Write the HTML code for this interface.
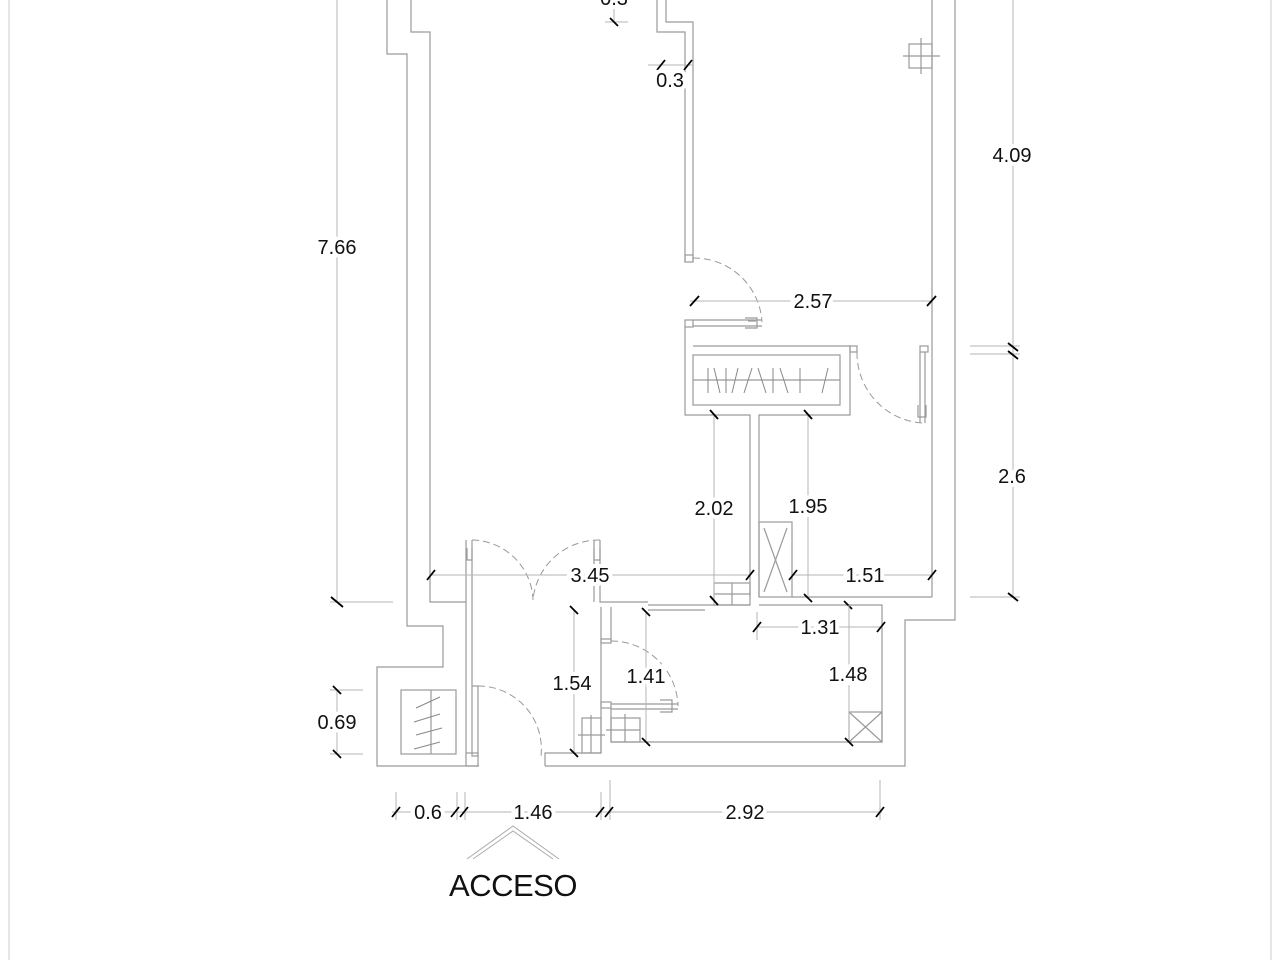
<!DOCTYPE html>
<html><head><meta charset="utf-8"><style>
html,body{margin:0;padding:0;background:#fff;}
svg{display:block;}
text{font-family:"Liberation Sans",Arial,sans-serif;font-size:20px;fill:#111;text-anchor:middle;paint-order:stroke;stroke:#fff;stroke-width:8px;}
.w{stroke:#9a9a9a;stroke-width:1.2;fill:none;}
.d{stroke:#b5b5b5;stroke-width:1;fill:none;}
.a{stroke:#999;stroke-width:1;fill:none;stroke-dasharray:7 4;}
.t{stroke:#000;stroke-width:1.8;}
</style></head><body>
<svg width="1280" height="960" viewBox="0 0 1280 960" xmlns="http://www.w3.org/2000/svg">
<line x1="9" y1="0" x2="9" y2="960" stroke="#e6e6e6" stroke-width="2"/>
<line x1="1271" y1="0" x2="1271" y2="960" stroke="#e6e6e6" stroke-width="2"/>

<polyline class="w" points="387,0 387,54 407,54 407,626 443,626 443,667 377,667 377,766 479,766"/>
<polyline class="w" points="411,0 411,32 430,32 430,602 466,602"/>
<polyline class="w" points="657,0 657,32 685,32 685,262"/>
<polyline class="w" points="666,0 666,22 693,22 693,262"/>
<rect class="w" x="685" y="255" width="8" height="7"/>
<path class="a" d="M693,258 A68,68 0 0 1 762,322"/>
<line class="w" x1="693" y1="320" x2="762" y2="320"/>
<line class="w" x1="693" y1="326" x2="762" y2="326"/>
<rect class="w" x="685" y="320" width="8" height="7"/>
<path class="w" d="M745,318 h12 v10 h-12 M748,321 h8"/>
<polyline class="w" points="685,327 685,415 750,415 750,597"/>
<polyline class="w" points="693,346 850,346 850,415 759,415 759,597"/>
<rect class="w" x="850" y="346" width="7" height="6"/>
<rect class="w" x="693" y="355" width="147" height="50"/>
<line class="w" x1="693" y1="380" x2="840" y2="380"/>
<g stroke="#888" stroke-width="1">
<line x1="708" y1="368" x2="708" y2="393"/><line x1="714" y1="368" x2="720" y2="393"/>
<line x1="726" y1="368" x2="726" y2="393"/><line x1="738" y1="368" x2="732" y2="393"/>
<line x1="752" y1="368" x2="744" y2="393"/><line x1="758" y1="368" x2="766" y2="393"/>
<line x1="773" y1="368" x2="773" y2="393"/><line x1="780" y1="368" x2="788" y2="393"/>
<line x1="800" y1="368" x2="800" y2="393"/><line x1="828" y1="368" x2="822" y2="393"/>
</g>
<rect class="w" x="920" y="346" width="8" height="6"/>
<line class="w" x1="920" y1="352" x2="920" y2="423"/>
<line class="w" x1="925" y1="352" x2="925" y2="423"/>
<path class="a" d="M857,352 A70,70 0 0 0 922,423"/>
<path class="w" d="M918,405 v12 h8 v-12"/>
<line class="w" x1="932" y1="0" x2="932" y2="597"/>
<polyline class="w" points="955,0 955,620 905,620 905,766 545,766"/>
<rect class="w" x="909" y="44" width="23" height="24"/>
<line class="w" x1="903" y1="56" x2="940" y2="56"/>
<line class="w" x1="921" y1="38" x2="921" y2="74"/>
<rect class="w" x="759" y="522" width="33" height="75"/>
<line class="w" x1="764" y1="528" x2="787" y2="592"/><line class="w" x1="787" y1="528" x2="764" y2="592"/>
<line class="w" x1="792" y1="597" x2="932" y2="597"/>
<rect class="w" x="714" y="583" width="36" height="22"/>
<line class="w" x1="714" y1="594" x2="750" y2="594"/><line class="w" x1="732" y1="583" x2="732" y2="605"/>
<polyline class="w" points="600,540 600,602 648,602"/>
<polyline class="w" points="594,540 594,602"/>
<line class="w" x1="648" y1="605" x2="705" y2="605"/>
<line class="w" x1="648" y1="610" x2="705" y2="610"/>
<polyline class="w" points="705,605 750,605"/>
<polyline class="w" points="759,605 882,605 882,742 611,742 611,708"/>
<polyline class="w" points="611,607 611,639"/>
<polyline class="w" points="601,607 601,753 545,753 545,766"/>
<rect class="w" x="601" y="639" width="10" height="4"/>
<rect class="w" x="601" y="702" width="10" height="6"/>
<path class="a" d="M611,641 A67,67 0 0 1 678,706"/>
<line class="w" x1="611" y1="704" x2="678" y2="704"/>
<line class="w" x1="611" y1="709" x2="678" y2="709"/>
<path class="w" d="M660,700 h12 v12 h-12"/>
<rect class="w" x="849" y="712" width="33" height="30"/>
<line class="w" x1="849" y1="712" x2="882" y2="742"/><line class="w" x1="882" y1="712" x2="849" y2="742"/>
<rect class="w" x="582" y="718" width="19" height="35"/>
<line class="w" x1="578" y1="735" x2="605" y2="735"/><line class="w" x1="591" y1="715" x2="591" y2="753"/>
<rect class="w" x="611" y="718" width="29" height="24"/>
<line class="w" x1="606" y1="730" x2="640" y2="730"/><line class="w" x1="625" y1="714" x2="625" y2="742"/>
<line class="w" x1="466" y1="540" x2="466" y2="602"/><line class="w" x1="472" y1="540" x2="472" y2="602"/>
<path class="w" d="M467,548 v12 h5 v-12"/>
<path class="w" d="M594,548 v12 h6 v-12"/>
<path class="a" d="M472,540 A62,62 0 0 1 533,600"/>
<path class="a" d="M600,540 A66,66 0 0 0 533,600"/>
<line class="w" x1="466" y1="602" x2="466" y2="753"/>
<line class="w" x1="472" y1="602" x2="472" y2="686"/>
<rect class="w" x="472" y="686" width="6" height="70"/>
<path class="a" d="M478,686 A63,63 0 0 1 541,756"/>
<rect class="w" x="466" y="753" width="12" height="13"/>
<rect class="w" x="401" y="690" width="55" height="64"/>
<line class="w" x1="431" y1="690" x2="431" y2="754"/>
<g stroke="#888" stroke-width="1">
<line x1="416" y1="708" x2="440" y2="697"/><line x1="414" y1="722" x2="440" y2="714"/>
<line x1="416" y1="735" x2="442" y2="728"/><line x1="414" y1="749" x2="440" y2="742"/>
</g>

<line class="d" x1="337" y1="0" x2="337" y2="602"/>
<line class="d" x1="330" y1="602" x2="393" y2="602"/>
<line class="t" x1="331" y1="597" x2="343" y2="607"/>
<line class="d" x1="648" y1="65" x2="693" y2="65"/>
<line class="t" x1="657" y1="70" x2="665" y2="60"/><line class="t" x1="684" y1="70" x2="692" y2="60"/>
<line class="d" x1="605" y1="22" x2="628" y2="22"/><line class="d" x1="614" y1="0" x2="614" y2="22"/>
<line class="t" x1="610" y1="18" x2="618" y2="26"/>
<line class="d" x1="690" y1="301" x2="932" y2="301"/>
<line class="t" x1="690" y1="306" x2="699" y2="296"/><line class="t" x1="927" y1="306" x2="936" y2="296"/>
<line class="d" x1="1013" y1="0" x2="1013" y2="598"/>
<line class="d" x1="970" y1="346" x2="1020" y2="346"/><line class="d" x1="970" y1="354" x2="1020" y2="354"/>
<line class="d" x1="970" y1="597" x2="1020" y2="597"/>
<line class="t" x1="1008" y1="343" x2="1018" y2="351"/><line class="t" x1="1008" y1="351" x2="1018" y2="359"/>
<line class="t" x1="1008" y1="593" x2="1018" y2="601"/>
<line class="d" x1="714" y1="415" x2="714" y2="605"/>
<line class="d" x1="808" y1="415" x2="808" y2="598"/>
<line class="t" x1="710" y1="410" x2="718" y2="419"/><line class="t" x1="804" y1="410" x2="812" y2="419"/>
<line class="t" x1="710" y1="596" x2="718" y2="605"/><line class="t" x1="804" y1="594" x2="812" y2="602"/>
<line class="t" x1="844" y1="601" x2="852" y2="609"/>
<line class="d" x1="431" y1="575" x2="750" y2="575"/>
<line class="t" x1="427" y1="580" x2="435" y2="570"/><line class="t" x1="746" y1="580" x2="754" y2="570"/>
<line class="d" x1="793" y1="575" x2="932" y2="575"/>
<line class="t" x1="789" y1="580" x2="797" y2="570"/><line class="t" x1="928" y1="580" x2="936" y2="570"/>
<line class="d" x1="757" y1="627" x2="882" y2="627"/><line class="d" x1="757" y1="612" x2="757" y2="640"/>
<line class="t" x1="753" y1="632" x2="761" y2="622"/><line class="t" x1="877" y1="632" x2="885" y2="622"/>
<line class="d" x1="849" y1="605" x2="849" y2="742"/>
<line class="t" x1="845" y1="738" x2="853" y2="746"/>
<line class="d" x1="574" y1="610" x2="574" y2="753"/>
<line class="t" x1="570" y1="606" x2="578" y2="614"/><line class="t" x1="570" y1="749" x2="578" y2="757"/>
<line class="d" x1="646" y1="612" x2="646" y2="742"/>
<line class="t" x1="642" y1="738" x2="650" y2="746"/><line class="t" x1="642" y1="608" x2="650" y2="616"/>
<line class="d" x1="337" y1="690" x2="337" y2="754"/>
<line class="d" x1="330" y1="690" x2="363" y2="690"/><line class="d" x1="330" y1="754" x2="363" y2="754"/>
<line class="t" x1="333" y1="686" x2="341" y2="694"/><line class="t" x1="333" y1="750" x2="341" y2="758"/>
<line class="d" x1="392" y1="812" x2="882" y2="812"/>
<line class="d" x1="396" y1="792" x2="396" y2="820"/>
<line class="d" x1="457" y1="792" x2="457" y2="820"/><line class="d" x1="465" y1="792" x2="465" y2="820"/>
<line class="d" x1="601" y1="792" x2="601" y2="820"/><line class="d" x1="610" y1="780" x2="610" y2="820"/>
<line class="d" x1="880" y1="780" x2="880" y2="820"/>
<line class="t" x1="392" y1="817" x2="400" y2="807"/>
<line class="t" x1="451" y1="817" x2="459" y2="807"/><line class="t" x1="460" y1="817" x2="468" y2="807"/>
<line class="t" x1="596" y1="817" x2="604" y2="807"/><line class="t" x1="605" y1="817" x2="613" y2="807"/>
<line class="t" x1="876" y1="817" x2="884" y2="807"/>
<polyline fill="none" stroke="#aaa" stroke-width="1" points="467,859 513,826 559,859"/>
<polyline fill="none" stroke="#aaa" stroke-width="1" points="473,859 513,831 553,859"/>

<text x="614" y="5">0.3</text>
<text x="670" y="87">0.3</text>
<text x="337" y="254">7.66</text>
<text x="1012" y="162">4.09</text>
<text x="813" y="308">2.57</text>
<text x="1012" y="483">2.6</text>
<text x="714" y="515">2.02</text>
<text x="808" y="513">1.95</text>
<text x="590" y="582">3.45</text>
<text x="865" y="582">1.51</text>
<text x="820" y="634">1.31</text>
<text x="848" y="681">1.48</text>
<text x="572" y="690">1.54</text>
<text x="646" y="683">1.41</text>
<text x="337" y="729">0.69</text>
<text x="428" y="819">0.6</text>
<text x="533" y="819">1.46</text>
<text x="745" y="819">2.92</text>
<text x="513" y="896" style="font-size:31px;stroke:none;letter-spacing:-0.5px;">ACCESO</text>
</svg>
</body></html>
